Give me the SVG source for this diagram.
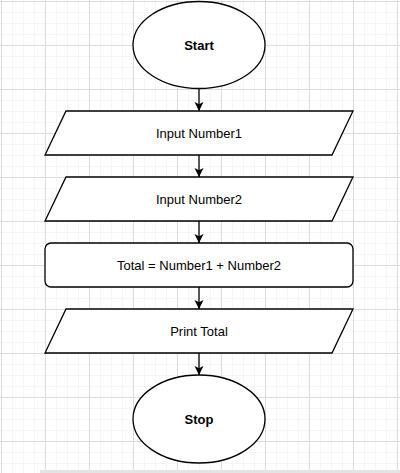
<svg xmlns="http://www.w3.org/2000/svg" width="400" height="473" viewBox="0 0 400 473">
<defs>
<pattern id="minor" x="1" y="1" width="11" height="11" patternUnits="userSpaceOnUse">
<path d="M0 0.5H11M0.5 0V11" fill="none" stroke="#f6f6f6" stroke-width="1"/>
</pattern>
<pattern id="major" x="1" y="1" width="44" height="44" patternUnits="userSpaceOnUse">
<path d="M0 0.5H44M0.5 0V44" fill="none" stroke="#dcdcdc" stroke-width="1"/>
</pattern>
<marker id="arr" markerWidth="10" markerHeight="10" refX="9" refY="4.5" orient="auto" markerUnits="userSpaceOnUse">
<path d="M0 0L9 4.5L0 9L2.2 4.5Z" fill="#000"/>
</marker>
<style>
.shape{fill:#fff;stroke:#000;stroke-width:1.3}
.lbl{font-family:"Liberation Sans",Arial,sans-serif;font-size:13px;fill:#000;text-anchor:middle;dominant-baseline:central}
.b{font-weight:bold}
.con{stroke:#000;stroke-width:1.3;fill:none;marker-end:url(#arr)}
</style>
</defs>
<rect width="400" height="473" fill="#fff"/>
<rect width="400" height="473" fill="url(#minor)"/>
<rect width="400" height="473" fill="url(#major)"/>
<rect x="40" y="470" width="360" height="3" fill="#e4e4e4"/>
<g id="connectors">
<path class="con" d="M199 89V111"/>
<path class="con" d="M199 155V177"/>
<path class="con" d="M199 221V243"/>
<path class="con" d="M199 287V309"/>
<path class="con" d="M199 353V375"/>
</g>
<g id="start">
<ellipse class="shape" cx="199" cy="45" rx="66" ry="43.5"/>
<text class="lbl b" x="199" y="45">Start</text>
</g>
<g id="input1">
<path class="shape" d="M66 111H353L332 155H45Z"/>
<text class="lbl" x="199" y="133">Input Number1</text>
</g>
<g id="input2">
<path class="shape" d="M66 177H353L332 221H45Z"/>
<text class="lbl" x="199" y="199">Input Number2</text>
</g>
<g id="process">
<rect class="shape" x="45" y="243" width="308" height="44" rx="6"/>
<text class="lbl" x="199" y="265">Total = Number1 + Number2</text>
</g>
<g id="print">
<path class="shape" d="M66 309H353L332 353H45Z"/>
<text class="lbl" x="199" y="331">Print Total</text>
</g>
<g id="stop">
<ellipse class="shape" cx="199" cy="419" rx="66" ry="44"/>
<text class="lbl b" x="199" y="419">Stop</text>
</g>
</svg>
